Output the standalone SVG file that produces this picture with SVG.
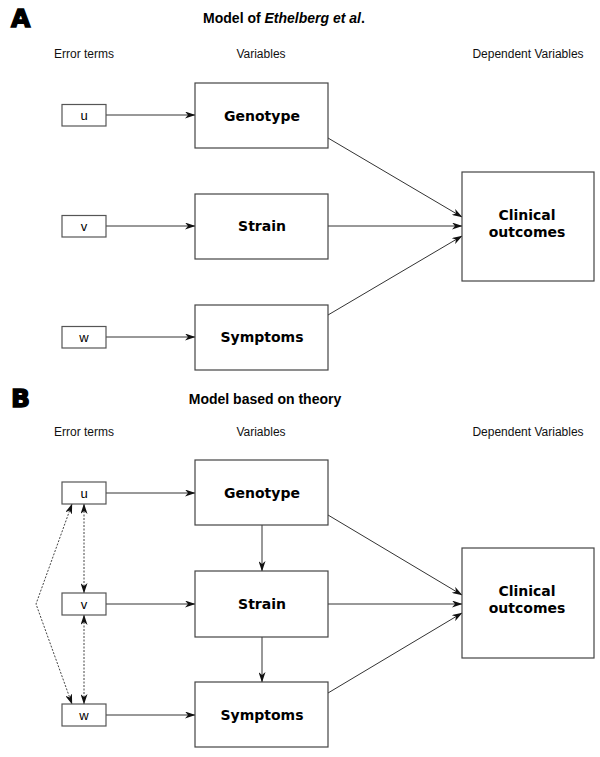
<svg xmlns="http://www.w3.org/2000/svg" width="600" height="757" viewBox="0 0 600 757">
<defs>
<marker id="ah" markerWidth="11" markerHeight="7" refX="10" refY="3.5" orient="auto-start-reverse" markerUnits="userSpaceOnUse">
<path d="M0,0 L10.5,3.5 L0,7 L3,3.5 Z" fill="#111"/>
</marker>
<style>
.box{fill:#fff;stroke:#444;stroke-width:1.2}
.ebox{fill:#fff;stroke:#555;stroke-width:1.2}
.ln{stroke:#333;stroke-width:1;fill:none}
.dt{stroke:#444;stroke-width:1;fill:none;stroke-dasharray:2,1.5}
.big{font-family:"DejaVu Sans",sans-serif;font-weight:bold;font-size:25px;fill:#000;stroke:#000;stroke-width:1.4}
.ttl{font-family:"Liberation Sans",Arial,sans-serif;font-weight:bold;font-size:14px;fill:#000;text-anchor:middle}
.hdr{font-family:"Liberation Sans",Arial,sans-serif;font-size:12px;fill:#111;text-anchor:middle}
.nl{font-family:"DejaVu Sans",sans-serif;font-weight:bold;font-size:14px;fill:#000;text-anchor:middle}
.el{font-family:"Liberation Sans",Arial,sans-serif;font-size:13px;fill:#000;text-anchor:middle}
</style>
</defs>
<rect width="600" height="757" fill="#fff"/>

<!-- Panel A labels -->
<text class="big" x="11" y="27">A</text>
<text class="ttl" x="284" y="23">Model of <tspan font-style="italic">Ethelberg et al</tspan>.</text>
<text class="hdr" x="84" y="58">Error terms</text>
<text class="hdr" x="261" y="58">Variables</text>
<text class="hdr" x="528" y="58">Dependent Variables</text>

<!-- Panel B labels -->
<text class="big" x="11" y="407">B</text>
<text class="ttl" x="265" y="404">Model based on theory</text>
<text class="hdr" x="84" y="436">Error terms</text>
<text class="hdr" x="261" y="436">Variables</text>
<text class="hdr" x="528" y="436">Dependent Variables</text>

<g id="connectors">
<!-- A -->
<line class="ln" x1="106" y1="115" x2="195" y2="115" marker-end="url(#ah)"/>
<line class="ln" x1="106" y1="226" x2="195" y2="226" marker-end="url(#ah)"/>
<line class="ln" x1="106" y1="337" x2="195" y2="337" marker-end="url(#ah)"/>
<line class="ln" x1="328" y1="138" x2="462" y2="217" marker-end="url(#ah)"/>
<line class="ln" x1="328" y1="226" x2="462" y2="226" marker-end="url(#ah)"/>
<line class="ln" x1="328" y1="315" x2="462" y2="236" marker-end="url(#ah)"/>
<!-- B -->
<line class="ln" x1="106" y1="493" x2="195" y2="493" marker-end="url(#ah)"/>
<line class="ln" x1="106" y1="604" x2="195" y2="604" marker-end="url(#ah)"/>
<line class="ln" x1="106" y1="715" x2="195" y2="715" marker-end="url(#ah)"/>
<line class="ln" x1="262" y1="525" x2="262" y2="571" marker-end="url(#ah)"/>
<line class="ln" x1="262" y1="637" x2="262" y2="682" marker-end="url(#ah)"/>
<line class="ln" x1="328" y1="515" x2="462" y2="595" marker-end="url(#ah)"/>
<line class="ln" x1="328" y1="604" x2="462" y2="604" marker-end="url(#ah)"/>
<line class="ln" x1="328" y1="693" x2="462" y2="613" marker-end="url(#ah)"/>
<!-- dotted correlations -->
<line class="dt" x1="84" y1="504" x2="84" y2="593" marker-start="url(#ah)" marker-end="url(#ah)"/>
<line class="dt" x1="84" y1="615" x2="84" y2="704" marker-start="url(#ah)" marker-end="url(#ah)"/>
<polyline class="dt" points="72,504 36,604 72,704" marker-start="url(#ah)" marker-end="url(#ah)"/>
</g>

<!-- Panel A nodes -->
<g id="A-u"><rect class="ebox" x="62" y="104.5" width="44" height="21.5"/><text class="el" x="84" y="120">u</text></g>
<g id="A-v"><rect class="ebox" x="62" y="215.5" width="44" height="21.5"/><text class="el" x="84" y="231">v</text></g>
<g id="A-w"><rect class="ebox" x="62" y="326.5" width="44" height="21.5"/><text class="el" x="84" y="342">w</text></g>
<g id="A-genotype"><rect class="box" x="195" y="83" width="133" height="65"/><text class="nl" x="262" y="120.5">Genotype</text></g>
<g id="A-strain"><rect class="box" x="195" y="194" width="133" height="65"/><text class="nl" x="262" y="231">Strain</text></g>
<g id="A-symptoms"><rect class="box" x="195" y="305" width="133" height="65"/><text class="nl" x="262" y="342">Symptoms</text></g>
<g id="A-clinical"><rect class="box" x="462" y="172" width="132" height="109"/><text class="nl" x="527" y="220">Clinical</text><text class="nl" x="527" y="237">outcomes</text></g>

<!-- Panel B nodes -->
<g id="B-u"><rect class="ebox" x="62" y="482" width="44" height="22"/><text class="el" x="84" y="497.5">u</text></g>
<g id="B-v"><rect class="ebox" x="62" y="593" width="44" height="22"/><text class="el" x="84" y="608.5">v</text></g>
<g id="B-w"><rect class="ebox" x="62" y="704" width="44" height="22"/><text class="el" x="84" y="719.5">w</text></g>
<g id="B-genotype"><rect class="box" x="195" y="460" width="133" height="65"/><text class="nl" x="262" y="497.5">Genotype</text></g>
<g id="B-strain"><rect class="box" x="195" y="571" width="133" height="66"/><text class="nl" x="262" y="609">Strain</text></g>
<g id="B-symptoms"><rect class="box" x="195" y="682" width="133" height="65"/><text class="nl" x="262" y="719.5">Symptoms</text></g>
<g id="B-clinical"><rect class="box" x="462" y="548" width="132" height="110"/><text class="nl" x="527" y="596">Clinical</text><text class="nl" x="527" y="613">outcomes</text></g>
</svg>
